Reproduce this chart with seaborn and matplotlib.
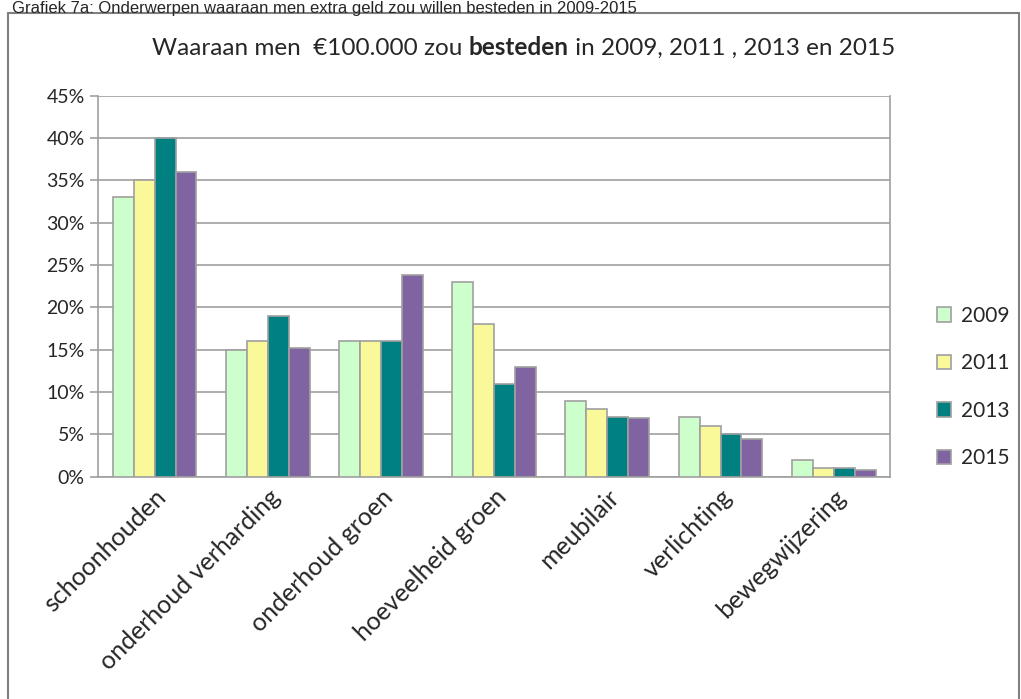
import matplotlib.pyplot as plt
import matplotlib.patches as patches
import pandas as pd
import seaborn as sns

categories = ["schoonhouden", "onderhoud verharding", "onderhoud groen",
              "hoeveelheid groen", "meubilair", "verlichting", "bewegwijzering"]
years = ["2009", "2011", "2013", "2015"]
v2009 = [33, 15, 16, 23, 9, 7, 2]
v2011 = [35, 16, 16, 18, 8, 6, 1]
v2013 = [40, 19, 16, 11, 7, 5, 1]
v2015 = [36, 15.2, 23.8, 13, 6.9, 4.5, 0.8]
colors = ["#CCFFCC", "#F9F99A", "#008080", "#8064A2"]

rows = []
for year, vals in zip(years, [v2009, v2011, v2013, v2015]):
    for cat, v in zip(categories, vals):
        rows.append({"categorie": cat, "jaar": year, "pct": v})
df = pd.DataFrame(rows)

sns.set_style("white")
plt.rcParams["font.family"] = ["Lato", "DejaVu Sans"]
GREY = "#A0A0A0"

fig = plt.figure(figsize=(10.21, 6.99), dpi=100)
ax = fig.add_axes([0.096, 0.318, 0.776, 0.545])

sns.barplot(data=df, x="categorie", y="pct", hue="jaar", palette=colors,
            saturation=1, width=0.74, gap=0, edgecolor=GREY, linewidth=1.2,
            ax=ax, zorder=3)

ax.set_ylim(0, 45)
ax.set_xlim(-0.5, len(categories) - 0.5)
ax.set_yticks(range(0, 46, 5))
ax.set_yticklabels([f"{t}%" for t in range(0, 46, 5)], fontsize=14)
ax.yaxis.grid(True, color=GREY, linewidth=1.2, zorder=0)
ax.set_axisbelow(True)
ax.set_xlabel("")
ax.set_ylabel("")

# category ticks between groups
ax.set_xticks([i - 0.5 for i in range(len(categories) + 1)], minor=True)
ax.tick_params(axis="x", which="minor", length=7, color=GREY, width=1.2, direction="out")
ax.tick_params(axis="x", which="major", length=0, pad=6)
ax.tick_params(axis="y", length=6, color=GREY, width=1.2, direction="out", left=True)
ax.set_xticks(range(len(categories)))
ax.set_xticklabels(categories, rotation=45, ha="right", rotation_mode="anchor", fontsize=18)

for s in ["left", "bottom", "right"]:
    ax.spines[s].set_color(GREY)
    ax.spines[s].set_linewidth(1.2)
ax.spines["top"].set_visible(False)

leg = ax.legend(loc="center left", bbox_to_anchor=(1.035, 0.235), frameon=False,
                fontsize=15, labelspacing=1.32, handlelength=0.7, handleheight=0.7,
                handletextpad=0.45)
for h in leg.legend_handles:
    h.set_edgecolor(GREY)

# title with bold word
t1 = fig.text(0.149, 0.922, "Waaraan men  €100.000 zou ", fontsize=17.5, va="baseline")
t2 = ax.annotate("besteden", xy=(1, 0), xycoords=t1, va="bottom", fontsize=17.5,
                 fontweight="bold", annotation_clip=False)
ax.annotate(" in 2009, 2011 , 2013 en 2015", xy=(1, 0), xycoords=t2, va="bottom",
            fontsize=17.5, annotation_clip=False)

# header above the frame
fig.text(0.012, 0.999, "Grafiek 7a: Onderwerpen waaraan men extra geld zou willen besteden in 2009-2015",
         fontsize=12, family="Liberation Sans", va="top")

frame = patches.Rectangle((0.008, -0.05), 0.99, 1.031, transform=fig.transFigure,
                          fill=False, edgecolor="#808080", linewidth=1.5)
fig.patches.append(frame)

fig.savefig("out.png", dpi=100)
